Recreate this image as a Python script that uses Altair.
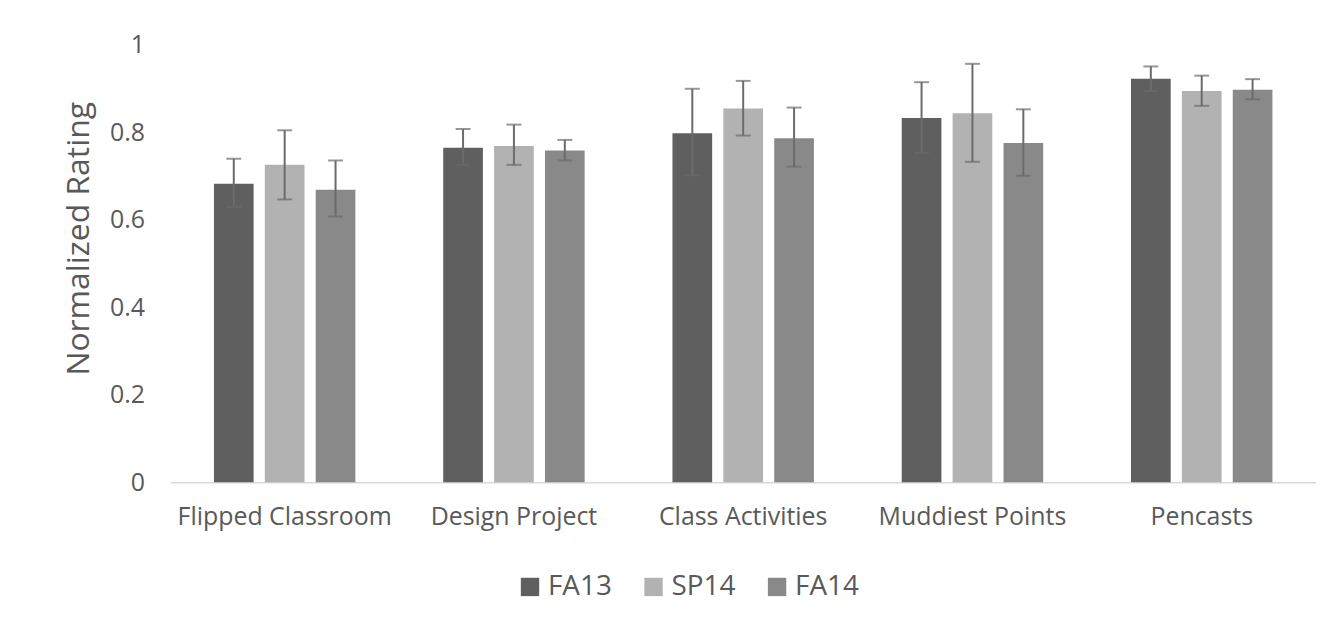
import altair as alt
import pandas as pd

categories = ["Flipped Classroom", "Design Project", "Class Activities", "Muddiest Points", "Pencasts"]
series = ["FA13", "SP14", "FA14"]
values = {
    "FA13": [0.683, 0.765, 0.798, 0.833, 0.923],
    "SP14": [0.726, 0.769, 0.855, 0.844, 0.895],
    "FA14": [0.669, 0.759, 0.787, 0.776, 0.898],
}
err_hi = {
    "FA13": [0.740, 0.808, 0.900, 0.915, 0.951],
    "SP14": [0.805, 0.818, 0.918, 0.957, 0.930],
    "FA14": [0.736, 0.783, 0.857, 0.853, 0.922],
}
err_lo = {
    "FA13": [0.630, 0.725, 0.702, 0.753, 0.895],
    "SP14": [0.647, 0.726, 0.793, 0.733, 0.861],
    "FA14": [0.608, 0.736, 0.722, 0.701, 0.876],
}
colors = ["#5f5f5f", "#b2b2b2", "#898989"]

rows = []
for s in series:
    for i, c in enumerate(categories):
        rows.append({"cat": c, "series": s, "value": values[s][i],
                     "hi": err_hi[s][i], "lo": err_lo[s][i]})
df = pd.DataFrame(rows)

font = "Open Sans"
x = alt.X("cat:N", sort=categories, title=None,
          scale=alt.Scale(paddingInner=0.383, paddingOuter=0.19),
          axis=alt.Axis(labelAngle=0, labelFontSize=25, labelColor="#595959",
                        labelPadding=22, ticks=False, domainColor="#d9d9d9",
                        domainWidth=1.5, labelFont=font, labelLimit=0,
                        labelOverlap=False))
xo = alt.XOffset("series:N", sort=series, scale=alt.Scale(paddingInner=0.22, paddingOuter=0))

base = alt.Chart(df)
bars = base.mark_bar().encode(
    x=x, xOffset=xo,
    y=alt.Y("value:Q", title="Normalized Rating",
            scale=alt.Scale(domain=[0, 1]),
            axis=alt.Axis(values=[0, 0.2, 0.4, 0.6, 0.8, 1], format="~g",
                          grid=False, domain=False, ticks=False,
                          labelFontSize=25, labelColor="#595959", labelPadding=26,
                          titleFontSize=32, titleColor="#595959", titleFontWeight="normal",
                          titlePadding=14, titleY=194, labelFont=font, titleFont=font)),
    color=alt.Color("series:N", sort=series,
                    scale=alt.Scale(domain=series, range=colors),
                    legend=alt.Legend(title=None, orient="none", direction="horizontal",
                                      legendX=347, legendY=530, symbolType="square",
                                      symbolSize=340, symbolStrokeWidth=0,
                                      labelFontSize=28, labelColor="#595959",
                                      labelFont=font, columnPadding=27, labelOffset=4)),
)
rules = base.mark_rule(color="#6b6b6b", strokeWidth=2).encode(
    x=x, xOffset=xo, y="lo:Q", y2="hi:Q")
caps_hi = base.mark_tick(color="#6b6b6b", thickness=2, size=15).encode(
    x=x, xOffset=xo, y="hi:Q")
caps_lo = base.mark_tick(color="#6b6b6b", thickness=2, size=15).encode(
    x=x, xOffset=xo, y="lo:Q")

chart = alt.layer(bars, rules, caps_hi, caps_lo).properties(
    width=1150, height=439,
    autosize=alt.AutoSizeParams(type="none"),
    padding={"left": 163, "top": 36, "right": 0, "bottom": 134},
).configure_view(stroke=None)

chart.save("out.html", embed_options={"renderer": "svg", "actions": False})
